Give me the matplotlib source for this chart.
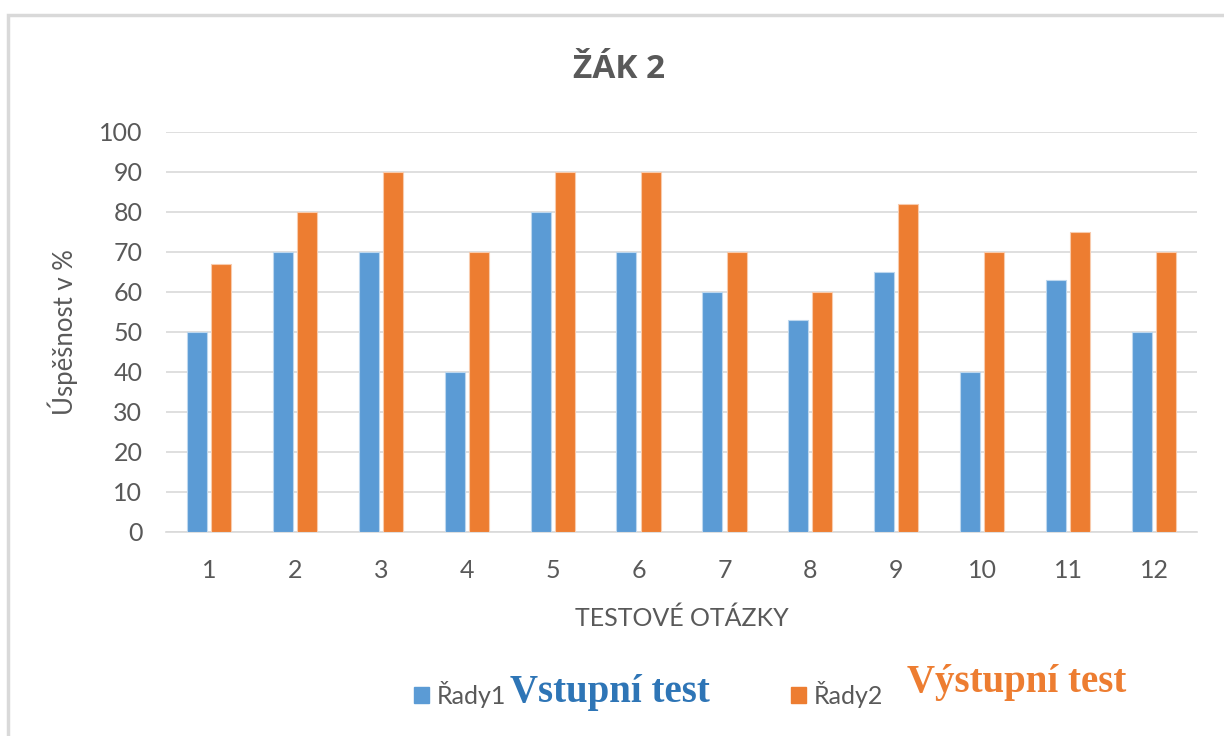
import numpy as np
import matplotlib
matplotlib.use('Agg')
import matplotlib.pyplot as plt
from matplotlib.patches import Rectangle, Patch

# DATA
otazky = ['1', '2', '3', '4', '5', '6', '7', '8', '9', '10', '11', '12']
vstupni = [50, 70, 70, 40, 80, 70, 60, 53, 65, 40, 63, 50]
vystupni = [67, 80, 90, 70, 90, 90, 70, 60, 82, 70, 75, 70]
yticks = [0, 10, 20, 30, 40, 50, 60, 70, 80, 90, 100]

modra = '#5B9BD5'
oranzova = '#ED7D31'
seda = '#595959'
mrizka = '#D9D9D9'

plt.rcParams['font.family'] = ['Lato', 'DejaVu Sans']

fig = plt.figure(figsize=(12.24, 7.36), dpi=100)
ax = fig.add_axes([166/1224, 1 - 531.7/736, 1031/1224, 400/736])

x = np.arange(len(otazky))
w = 0.233
off = 0.141
ax.bar(x - off, vstupni, w, color=modra, edgecolor='#BDD7EE', linewidth=0.8, zorder=3)
ax.bar(x + off, vystupni, w, color=oranzova, edgecolor='#F8CBAD', linewidth=0.8, zorder=3)

ax.set_xlim(-0.5, len(otazky) - 0.5)
ax.set_ylim(0, 100)
ax.set_yticks(yticks)
ax.set_xticks(x)
ax.set_xticklabels(otazky)
ax.grid(axis='y', color=mrizka, linewidth=1.2, zorder=0)
for s in ['top', 'right', 'left']:
    ax.spines[s].set_visible(False)
ax.spines['bottom'].set_color(mrizka)
ax.spines['bottom'].set_linewidth(1.2)
ax.tick_params(axis='both', length=0, labelsize=18, labelcolor=seda)
ax.tick_params(axis='y', pad=17)
ax.tick_params(axis='x', pad=20)

ax.set_xlabel('TESTOVÉ OTÁZKY', fontsize=18, color=seda)
ax.xaxis.set_label_coords(0.5, -0.186)
ax.set_ylabel('Úspěšnost v %', fontsize=18.5, color=seda)
ax.yaxis.set_label_coords(-0.0854, 0.5)

fig.text(619/1224, 1 - 70/736, 'ŽÁK 2', ha='center', va='center', fontsize=24,
         fontweight='bold', color=seda, family=['Open Sans', 'DejaVu Sans'])

handles = [Patch(color=modra), Patch(color=oranzova)]
fig.legend(handles, ['Řady1', 'Řady2'], loc='center left',
           bbox_to_anchor=(401/1224, 1 - 694/736), bbox_transform=fig.transFigure,
           ncol=2, frameon=False, fontsize=18, labelcolor=seda, borderpad=0,
           handlelength=0.62, handleheight=0.62, handletextpad=0.3, columnspacing=11.4)

fig.text(510/1224, 1 - 702/736, 'Vstupní test', ha='left', va='baseline', fontsize=28,
         fontweight='bold', color='#2E75B6', family='Liberation Serif')
fig.text(907/1224, 1 - 692/736, 'Výstupní test', ha='left', va='baseline', fontsize=28,
         fontweight='bold', color=oranzova, family='Liberation Serif')

# ramecek grafu
fig.patches.append(Rectangle((8/1224, -0.1), 1.2, (736 - 15)/736 + 0.1, transform=fig.transFigure,
                             fill=False, edgecolor=mrizka, linewidth=2.5))

fig.savefig('out.png', dpi=100)
